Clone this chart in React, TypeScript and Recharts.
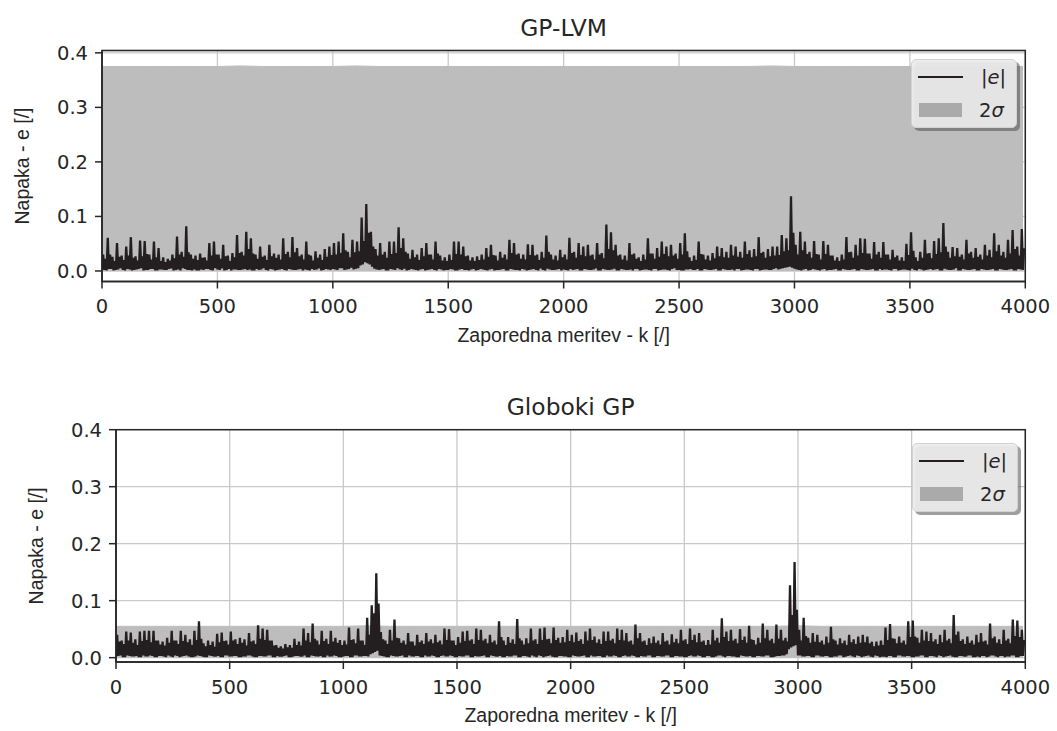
import React from 'react';
import { ComposedChart, Line, Area, XAxis, YAxis, CartesianGrid, Legend } from 'recharts';

const xTicks = [0, 500, 1000, 1500, 2000, 2500, 3000, 3500, 4000];
const yTicks = [0, 0.1, 0.2, 0.3, 0.4];

const sigmaK = [0, 100, 200, 300, 400, 500, 600, 700, 800, 900, 1000, 1100, 1200, 1300, 1400, 1500, 1600, 1700, 1800, 1900,
  2000, 2100, 2200, 2300, 2400, 2500, 2600, 2700, 2800, 2900, 3000, 3100, 3200, 3300, 3400, 3500, 3600, 3700, 3800, 3900, 3990];

const gpLvmSigma = [.375, .375, .375, .375, .375, .375, .376, .375, .375, .375, .375, .376, .375, .375, .375, .375, .375, .375, .375, .375,
  .375, .375, .375, .375, .375, .375, .375, .375, .375, .376, .375, .375, .375, .375, .375, .375, .375, .375, .375, .375, .375];

const deepSigma = [.055, .055, .055, .055, .055, .055, .055, .055, .055, .055, .055, .056, .055, .055, .055, .055, .055, .055, .055, .055,
  .055, .055, .055, .055, .055, .055, .055, .055, .055, .055, .056, .055, .055, .055, .055, .055, .055, .055, .055, .055, .055];

// ---- GP-LVM |e| : per 20-sample window, low / peak / low / band values ----
const gpLvmLowA = [
  .003, .001, .004, .002, .005, .001, .003, .002, .004, .001,
  .002, .004, .001, .003, .002, .005, .002, .001, .004, .002,
  .003, .001, .002, .004, .001, .003, .005, .002, .001, .003,
  .002, .004, .003, .001, .002, .005, .001, .003, .002, .004,
  .001, .003, .002, .004, .003, .001, .002, .005, .002, .003,
  .004, .002, .005, .003, .006, .004, .010, .016, .012, .004,
  .002, .004, .001, .003, .005, .002, .001, .004, .002, .003,
  .001, .003, .002, .004, .001, .002, .003, .001, .004, .002,
  .003, .001, .004, .002, .003, .001, .002, .004, .001, .003,
  .002, .004, .001, .003, .002, .005, .001, .003, .002, .004,
  .003, .001, .002, .004, .001, .003, .002, .005, .001, .003,
  .002, .004, .001, .003, .002, .001, .004, .002, .003, .001,
  .004, .002, .003, .001, .005, .002, .001, .003, .002, .004,
  .001, .003, .002, .004, .001, .003, .002, .001, .004, .002,
  .003, .001, .004, .002, .003, .002, .005, .004, .006, .008,
  .004, .002, .003, .001, .004, .002, .003, .001, .002, .004,
  .001, .003, .002, .004, .001, .003, .002, .004, .001, .002,
  .003, .001, .004, .002, .003, .001, .002, .004, .001, .003,
  .002, .004, .001, .003, .002, .005, .001, .003, .002, .004,
  .001, .003, .002, .004, .001, .003, .002, .004, .001, .003,
];

const gpLvmPeak = [
  .030, .061, .026, .051, .028, .045, .062, .027, .056, .055,
  .030, .054, .042, .025, .022, .030, .063, .035, .082, .030,
  .028, .032, .025, .051, .054, .030, .048, .028, .033, .066,
  .035, .072, .060, .030, .045, .028, .048, .032, .030, .060,
  .035, .062, .042, .030, .054, .028, .036, .030, .040, .045,
  .051, .054, .069, .035, .057, .054, .098, .123, .072, .040,
  .051, .035, .054, .054, .080, .060, .032, .039, .030, .042,
  .051, .030, .054, .028, .025, .030, .054, .054, .045, .028,
  .025, .027, .030, .042, .048, .028, .035, .030, .057, .051,
  .032, .030, .049, .048, .030, .035, .065, .030, .028, .039,
  .030, .061, .035, .051, .045, .048, .030, .051, .033, .085,
  .071, .048, .030, .028, .051, .032, .025, .030, .060, .032,
  .042, .054, .045, .048, .032, .051, .069, .025, .028, .054,
  .030, .028, .033, .045, .042, .035, .048, .045, .035, .054,
  .038, .040, .062, .035, .040, .045, .045, .066, .060, .137,
  .048, .072, .054, .035, .055, .030, .055, .048, .028, .025,
  .030, .062, .035, .048, .060, .059, .032, .053, .035, .053,
  .030, .039, .028, .025, .050, .071, .025, .035, .057, .033,
  .055, .060, .088, .035, .044, .042, .030, .057, .035, .042,
  .030, .048, .039, .069, .048, .035, .057, .075, .045, .077,
];

const gpLvmLowB = [
  .002, .004, .001, .003, .002, .004, .001, .003, .005, .002,
  .004, .001, .003, .002, .004, .001, .003, .005, .002, .001,
  .001, .003, .004, .002, .005, .002, .001, .004, .003, .002,
  .003, .002, .001, .004, .003, .002, .004, .001, .003, .002,
  .004, .002, .003, .001, .002, .004, .003, .001, .004, .002,
  .003, .005, .002, .004, .003, .005, .012, .014, .008, .003,
  .003, .001, .004, .002, .003, .004, .002, .003, .001, .004,
  .002, .004, .001, .003, .002, .004, .001, .003, .002, .001,
  .004, .002, .003, .001, .004, .002, .003, .001, .004, .002,
  .001, .003, .002, .004, .001, .002, .004, .002, .003, .001,
  .002, .004, .003, .001, .004, .002, .003, .001, .004, .002,
  .003, .001, .004, .002, .003, .004, .001, .003, .002, .004,
  .001, .003, .002, .004, .002, .001, .003, .004, .002, .001,
  .004, .002, .003, .001, .004, .002, .003, .004, .001, .003,
  .002, .004, .001, .003, .002, .004, .003, .005, .007, .006,
  .003, .001, .004, .002, .003, .001, .004, .002, .003, .001,
  .004, .002, .003, .001, .004, .002, .003, .001, .004, .003,
  .002, .004, .001, .003, .002, .004, .001, .003, .002, .004,
  .003, .001, .004, .002, .003, .001, .004, .002, .003, .001,
  .004, .002, .003, .001, .004, .002, .003, .001, .004, .002,
];

const gpLvmBand = [
  .022, .030, .018, .026, .020, .028, .024, .019, .027, .031,
  .021, .025, .018, .016, .019, .023, .030, .026, .034, .022,
  .020, .024, .019, .028, .030, .022, .027, .018, .025, .033,
  .028, .040, .032, .022, .026, .020, .027, .024, .021, .031,
  .025, .034, .027, .021, .030, .019, .024, .020, .026, .029,
  .030, .033, .038, .025, .034, .036, .055, .070, .045, .028,
  .030, .024, .031, .033, .042, .035, .022, .025, .020, .027,
  .030, .021, .032, .019, .018, .020, .031, .030, .027, .019,
  .018, .020, .021, .026, .029, .019, .024, .021, .033, .030,
  .022, .021, .029, .028, .020, .024, .035, .021, .019, .025,
  .021, .033, .024, .029, .027, .028, .021, .030, .023, .040,
  .038, .028, .021, .019, .030, .022, .018, .021, .032, .022,
  .026, .031, .027, .028, .022, .030, .036, .018, .020, .031,
  .021, .019, .023, .027, .025, .024, .028, .026, .024, .031,
  .025, .027, .033, .024, .027, .028, .029, .036, .038, .070,
  .030, .038, .031, .024, .031, .021, .031, .028, .019, .018,
  .021, .034, .024, .028, .033, .032, .022, .030, .024, .030,
  .021, .025, .019, .018, .029, .037, .018, .024, .032, .023,
  .031, .034, .045, .024, .027, .026, .021, .032, .024, .026,
  .021, .028, .025, .036, .028, .024, .032, .040, .028, .042,
];

// ---- Globoki GP |e| ----
const deepLowA = [
  .002, .004, .001, .003, .002, .001, .004, .002, .003, .001,
  .003, .001, .002, .004, .001, .003, .002, .001, .004, .002,
  .001, .003, .002, .001, .004, .002, .003, .001, .002, .004,
  .002, .001, .003, .002, .004, .001, .002, .003, .001, .002,
  .003, .002, .001, .004, .002, .003, .001, .002, .004, .001,
  .002, .003, .001, .004, .002, .003, .006, .010, .004, .002,
  .001, .003, .002, .004, .001, .002, .003, .001, .004, .002,
  .003, .001, .004, .002, .003, .001, .002, .004, .001, .003,
  .002, .004, .001, .003, .002, .001, .003, .002, .004, .001,
  .003, .001, .002, .004, .001, .003, .002, .001, .003, .002,
  .001, .003, .002, .004, .001, .002, .003, .001, .004, .002,
  .003, .001, .004, .002, .003, .001, .002, .004, .001, .003,
  .002, .004, .001, .003, .002, .001, .003, .002, .004, .001,
  .003, .001, .002, .004, .001, .003, .002, .001, .003, .002,
  .001, .003, .002, .004, .001, .002, .003, .004, .015, .020,
  .004, .002, .003, .001, .004, .002, .003, .001, .002, .004,
  .001, .003, .002, .004, .001, .003, .002, .004, .001, .002,
  .003, .001, .004, .002, .003, .001, .002, .004, .001, .003,
  .002, .004, .001, .003, .002, .001, .003, .002, .004, .001,
  .001, .003, .002, .004, .001, .003, .002, .004, .001, .003,
];

const deepPeak = [
  .040, .030, .046, .044, .032, .046, .047, .047, .047, .030,
  .028, .035, .047, .030, .047, .040, .032, .047, .064, .025,
  .030, .028, .042, .044, .030, .046, .032, .035, .032, .043,
  .030, .057, .051, .049, .030, .022, .020, .024, .022, .033,
  .028, .051, .043, .060, .030, .047, .033, .047, .035, .031,
  .030, .053, .032, .051, .030, .070, .092, .148, .045, .030,
  .049, .067, .034, .030, .043, .028, .040, .030, .043, .032,
  .040, .030, .051, .050, .030, .036, .046, .047, .032, .051,
  .049, .033, .040, .030, .064, .030, .036, .032, .068, .030,
  .034, .051, .032, .051, .053, .033, .053, .035, .036, .049,
  .040, .044, .032, .046, .051, .037, .032, .046, .046, .033,
  .051, .049, .043, .030, .058, .043, .030, .034, .037, .030,
  .043, .030, .041, .033, .049, .032, .051, .040, .043, .030,
  .031, .049, .035, .069, .046, .049, .033, .050, .037, .056,
  .031, .035, .060, .049, .033, .058, .049, .035, .127, .168,
  .049, .070, .035, .043, .040, .030, .037, .054, .030, .034,
  .030, .040, .032, .037, .040, .037, .028, .028, .030, .053,
  .059, .033, .037, .030, .064, .065, .035, .049, .046, .043,
  .032, .040, .049, .033, .075, .046, .032, .037, .030, .040,
  .043, .030, .060, .037, .032, .049, .033, .067, .065, .049,
];

const deepLowB = [
  .003, .001, .004, .002, .003, .001, .002, .004, .001, .003,
  .002, .004, .001, .003, .002, .004, .001, .002, .003, .001,
  .004, .002, .003, .001, .004, .002, .003, .001, .002, .004,
  .001, .003, .002, .004, .001, .003, .002, .004, .001, .003,
  .002, .004, .001, .003, .002, .001, .004, .002, .003, .001,
  .003, .001, .004, .002, .003, .002, .008, .012, .003, .001,
  .004, .002, .003, .001, .004, .002, .003, .001, .002, .004,
  .001, .003, .002, .004, .001, .003, .002, .004, .001, .002,
  .003, .001, .004, .002, .003, .001, .002, .004, .001, .003,
  .002, .004, .001, .003, .002, .004, .001, .003, .002, .001,
  .004, .002, .003, .001, .004, .002, .003, .001, .002, .004,
  .001, .003, .002, .004, .001, .003, .002, .004, .001, .003,
  .002, .004, .001, .003, .002, .001, .004, .002, .003, .001,
  .003, .001, .004, .002, .003, .002, .001, .004, .002, .003,
  .001, .003, .002, .004, .001, .003, .004, .006, .018, .022,
  .004, .002, .003, .001, .004, .002, .003, .001, .002, .004,
  .002, .004, .001, .003, .002, .004, .001, .003, .002, .001,
  .003, .001, .004, .002, .003, .001, .002, .004, .001, .003,
  .001, .003, .002, .004, .001, .003, .002, .004, .001, .002,
  .003, .001, .004, .002, .003, .001, .002, .004, .001, .003,
];

const deepBand = [
  .028, .024, .030, .026, .022, .029, .031, .027, .030, .023,
  .021, .026, .030, .024, .029, .027, .022, .031, .033, .020,
  .022, .019, .027, .029, .023, .030, .024, .026, .021, .028,
  .024, .033, .031, .030, .021, .017, .016, .018, .017, .022,
  .021, .030, .027, .033, .023, .029, .024, .028, .026, .022,
  .023, .031, .025, .030, .022, .040, .078, .095, .032, .024,
  .030, .035, .026, .023, .028, .021, .027, .024, .028, .025,
  .027, .023, .031, .030, .022, .026, .029, .030, .024, .031,
  .030, .025, .027, .023, .036, .022, .026, .024, .034, .023,
  .025, .030, .024, .031, .032, .025, .031, .026, .027, .029,
  .027, .029, .024, .030, .031, .026, .024, .029, .030, .025,
  .031, .030, .028, .023, .034, .028, .022, .025, .026, .023,
  .028, .023, .027, .025, .030, .024, .031, .027, .028, .022,
  .023, .030, .026, .036, .029, .030, .025, .031, .026, .032,
  .023, .026, .034, .030, .025, .033, .030, .028, .075, .084,
  .030, .038, .026, .028, .027, .023, .026, .032, .023, .025,
  .022, .027, .024, .026, .027, .025, .020, .021, .022, .031,
  .034, .025, .026, .023, .036, .037, .026, .030, .029, .028,
  .024, .027, .030, .025, .040, .029, .024, .026, .023, .027,
  .028, .023, .034, .026, .024, .030, .025, .038, .036, .031,
];

const buildErr = (lowA: number[], peak: number[], lowB: number[], band: number[]) =>
  lowA.flatMap((lo, i) => [
    { k: i * 20, e: lo },
    { k: i * 20 + 5, e: peak[i] },
    { k: i * 20 + 10, e: lowB[i] },
    { k: i * 20 + 15, e: band[i] },
  ]);
const buildSigma = (s: number[]) => s.map((v, i) => ({ k: sigmaK[i], s: v }));

const TEXT = '#262626';
const TICK_FONT = '"DejaVu Sans", sans-serif';
const LABEL_FONT = '"Liberation Sans", Arial, sans-serif';
const AXIS = { stroke: TEXT, strokeWidth: 1.5 };
const CHART_W = 1057;

const LegendBox = () => (
  <div style={{ position: 'relative', width: 110, height: 74 }}>
    <div style={{ position: 'absolute', left: 3, top: 3, width: 106, height: 69, background: 'rgba(80,80,80,0.55)', borderRadius: 5 }} />
    <div style={{ position: 'absolute', left: 0, top: 0, width: 106, height: 69, boxSizing: 'border-box', background: 'rgba(236,236,236,0.93)', border: '1px solid #d2d2d2', borderRadius: 5 }}>
      <svg width={106} height={69} style={{ position: 'absolute', left: -1, top: -1 }}>
        <line x1={7} x2={52} y1={18} y2={18} stroke="#231f20" strokeWidth={2.2} />
        <rect x={8} y={44} width={43} height={14} fill="#aaaaaa" />
        <text x={70} y={25} fontSize={19.5} fontFamily={TICK_FONT} fill={TEXT}>|<tspan fontStyle="italic">e</tspan>|</text>
        <text x={68} y={58} fontSize={19.5} fontFamily={TICK_FONT} fill={TEXT}>2<tspan fontStyle="italic">σ</tspan></text>
      </svg>
    </div>
  </div>
);

type PanelProps = {
  title: string;
  err: { k: number; e: number }[];
  sigma: { k: number; s: number }[];
  yDomain: [number, number];
  height: number;
  margin: { top: number; right: number; bottom: number; left: number };
  legendPos: { left: number; top: number };
};

function Panel({ title, err, sigma, yDomain, height, margin, legendPos }: PanelProps) {
  const plotRight = CHART_W - margin.right;
  return (
    <ComposedChart width={CHART_W} height={height} margin={margin}>
      <CartesianGrid stroke="#c9c9c9" strokeWidth={1.3} />
      <XAxis
        xAxisId={0}
        dataKey="k"
        type="number"
        domain={[0, 4000]}
        ticks={xTicks}
        interval={0}
        allowDataOverflow
        height={20}
        tickSize={7}
        tickMargin={11}
        axisLine={AXIS}
        tickLine={{ stroke: TEXT, strokeWidth: 1.5 }}
        tick={{ fill: TEXT, fontSize: 19.5, fontFamily: TICK_FONT }}
        label={{
          content: (p: any) => (
            <text x={p.viewBox.x + p.viewBox.width / 2} y={p.viewBox.y + 60} textAnchor="middle" fontSize={19.5} fontFamily={LABEL_FONT} fill={TEXT}>
              Zaporedna meritev - k [/]
            </text>
          ),
        }}
      />
      <XAxis xAxisId="top" dataKey="k" orientation="top" type="number" domain={[0, 4000]} height={0} tick={false} tickLine={false} axisLine={AXIS} />
      <YAxis
        yAxisId={0}
        type="number"
        domain={yDomain}
        ticks={yTicks}
        interval={0}
        allowDataOverflow
        width={60}
        tickSize={7}
        tickMargin={7}
        tickFormatter={(v: number) => v.toFixed(1)}
        axisLine={AXIS}
        tickLine={{ stroke: TEXT, strokeWidth: 1.5 }}
        tick={{ fill: TEXT, fontSize: 19.5, fontFamily: TICK_FONT }}
        label={{
          content: (p: any) => {
            const plotLeft = p.viewBox.x + p.viewBox.width;
            const top = p.viewBox.y;
            const cx = p.viewBox.x - 20;
            const cy = top + p.viewBox.height / 2;
            return (
              <g>
                <rect x={plotLeft} y={top} width={plotRight - plotLeft} height={p.viewBox.height} fill="none" stroke={TEXT} strokeWidth={1.5} />
                <text x={cx} y={cy} transform={`rotate(-90, ${cx}, ${cy})`} textAnchor="middle" dominantBaseline="central" fontSize={19.5} fontFamily={LABEL_FONT} fill={TEXT}>
                  Napaka - e [/]
                </text>
                <text x={(plotLeft + plotRight) / 2} y={top - 15} textAnchor="middle" fontSize={23.4} fontFamily={TICK_FONT} fill={TEXT}>
                  {title}
                </text>
              </g>
            );
          },
        }}
      />
      <YAxis yAxisId="right" orientation="right" type="number" domain={yDomain} allowDataOverflow width={0} tick={false} tickLine={false} axisLine={AXIS} />
      <Area
        data={sigma}
        dataKey="s"
        xAxisId={0}
        yAxisId={0}
        type="linear"
        baseValue={0}
        fill="#bdbdbd"
        fillOpacity={1}
        stroke="#bdbdbd"
        strokeWidth={1}
        dot={false}
        activeDot={false}
        isAnimationActive={false}
      />
      <Line
        data={err}
        dataKey="e"
        xAxisId={0}
        yAxisId={0}
        type="linear"
        stroke="#231f20"
        strokeWidth={2.3}
        dot={false}
        activeDot={false}
        isAnimationActive={false}
      />
      <Legend
        layout="vertical"
        align="center"
        verticalAlign="middle"
        content={() => <LegendBox />}
        wrapperStyle={{ left: legendPos.left, top: legendPos.top, width: 110, height: 74 }}
      />
    </ComposedChart>
  );
}

export default function App() {
  return (
    <div style={{ position: 'absolute', left: 0, top: 0, width: 1057, height: 731, background: '#ffffff' }}>
      <div style={{ position: 'absolute', left: 0, top: 0 }}>
        <Panel
          title="GP-LVM"
          err={buildErr(gpLvmLowA, gpLvmPeak, gpLvmLowB, gpLvmBand)}
          sigma={buildSigma(gpLvmSigma)}
          yDomain={[-0.0193, 0.4043]}
          height={360}
          margin={{ top: 50.5, right: 31.7, bottom: 58.5, left: 42 }}
          legendPos={{ left: 910.5, top: 59 }}
        />
      </div>
      <div style={{ position: 'absolute', left: 0, top: 365 }}>
        <Panel
          title="Globoki GP"
          err={buildErr(deepLowA, deepPeak, deepLowB, deepBand)}
          sigma={buildSigma(deepSigma)}
          yDomain={[-0.0076, 0.4]}
          height={366}
          margin={{ top: 64.7, right: 31.7, bottom: 49, left: 56 }}
          legendPos={{ left: 911.5, top: 78 }}
        />
      </div>
    </div>
  );
}
